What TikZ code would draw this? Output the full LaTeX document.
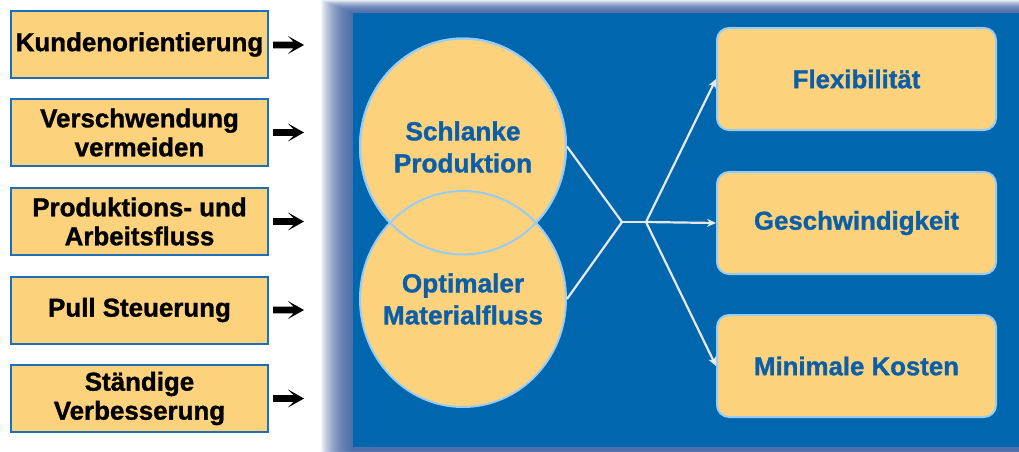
\documentclass[tikz,border=0pt]{standalone}
\usepackage{fontspec}
\setmainfont{Liberation Sans}[BoldFeatures={FakeBold=1.2}]
\usetikzlibrary{arrows.meta,shapes.geometric}
\definecolor{boxfill}{HTML}{FDD27D}
\definecolor{boxblue}{HTML}{1E6FB8}
\definecolor{panelblue}{HTML}{0066AD}
\definecolor{textblue}{HTML}{0A5FA8}
\definecolor{lightborder}{HTML}{99CCF5}
\definecolor{conn}{HTML}{E8E8E8}
\definecolor{shadowblue}{HTML}{3A5EA3}
\tikzset{
  leftbox/.style={draw=boxblue, line width=2pt, fill=boxfill, minimum width=257pt, minimum height=67pt,
    align=center, font=\bfseries\fontsize{25.9}{29}\selectfont, inner sep=0pt, text=black},
  rightbox/.style={draw=lightborder, line width=2pt, fill=boxfill, rounded corners=12pt,
    minimum width=279pt, minimum height=102pt, align=center,
    font=\bfseries\fontsize{25.8}{29}\selectfont, inner sep=0pt, text=textblue},
  bubble/.style={ellipse, fill=boxfill, draw=lightborder, line width=2pt, minimum width=206pt,
    minimum height=216pt, inner sep=0pt},
  bubbletext/.style={align=center, font=\bfseries\fontsize{26.2}{32}\selectfont, text=textblue, inner sep=0pt},
  connector/.style={draw=conn, line width=2.2pt},
  arrowconn/.style={connector, -{Stealth[length=9pt,width=8pt]}},
  shadowlayer/.style={fill=shadowblue, fill opacity=0.06},
  pics/blackarrow/.style={code={
    \fill[black] (-15.5,-3.3) -- (5,-3.3) -- (-0.5,-9) -- (15.5,0) -- (-0.5,9) -- (5,3.3) -- (-15.5,3.3) -- cycle;
  }}
}
\begin{document}
\begin{tikzpicture}[x=1pt,y=-1pt]
\useasboundingbox (0,0) rectangle (1019,451);
\fill[white] (0,0) rectangle (1019,451);
% panel shadow
\foreach \i in {0,...,31}{
  \fill[shadowlayer] (321+\i, 0.4*\i) rectangle (1030,455);
}
% panel
\fill[panelblue] (353,13) rectangle (1030,447);
% left boxes
\node[leftbox] (l1) at (139.5,44.5) {Kundenorientierung};
\node[leftbox] (l2) at (139.5,132.5) {Verschwendung\\vermeiden};
\node[leftbox] (l3) at (139.5,221.5) {Produktions- und\\Arbeitsfluss};
\node[leftbox] (l4) at (139.5,310) {Pull Steuerung};
\node[leftbox] (l5) at (139.5,398.5) {Ständige\\Verbesserung};
\pic (a1) at (288.5,45) {blackarrow};
\pic (a2) at (288.5,132.5) {blackarrow};
\pic (a3) at (288.5,221.5) {blackarrow};
\pic (a4) at (288.5,310) {blackarrow};
\pic (a5) at (288.5,398.5) {blackarrow};
% bubbles
\node[bubble] (top) at (463,146.5) {};
\node[bubble] (bot) at (463,299) {};
\draw[draw=lightborder, line width=2pt] (top.center) ellipse [x radius=103, y radius=108];
\node[bubbletext] (toptext) at (463,147) {Schlanke\\Produktion};
\node[bubbletext] (bottext) at (463,299) {Optimaler\\Materialfluss};
% right boxes
\node[rightbox] (r1) at (856.5,79) {Flexibilität};
\node[rightbox] (r2) at (856.5,223) {Geschwindigkeit};
\node[rightbox] (r3) at (856.5,366) {Minimale Kosten};
% connectors
\coordinate (j1) at (622,222);
\coordinate (j2) at (646,222);
\draw[connector, line join=round] (top.east) -- (j1) -- (bot.east);
\draw[connector] (j1) -- (j2);
\draw[arrowconn] (j2) -- (r1.west);
\draw[arrowconn] (j2) -- (r2.west);
\draw[arrowconn] (j2) -- (r3.west);
\end{tikzpicture}
\end{document}
